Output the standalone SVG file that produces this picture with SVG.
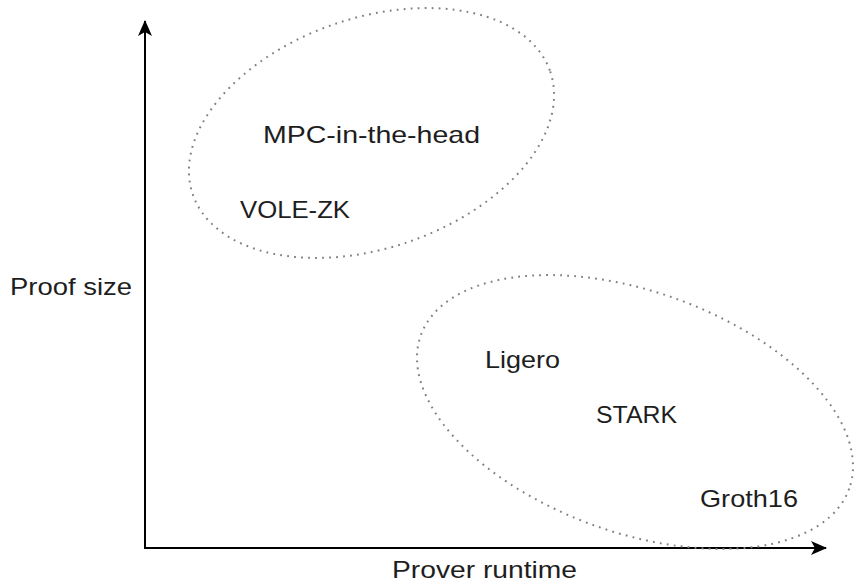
<svg xmlns="http://www.w3.org/2000/svg" width="854" height="584" viewBox="0 0 854 584">
<style>
.lbl{font-family:"Liberation Sans","DejaVu Sans",sans-serif;font-size:24px;fill:#1e1e1e}
.grp{fill:none;stroke:#808080;stroke-width:2;stroke-dasharray:1.8 5.2}
.axis{fill:none;stroke:#000;stroke-width:2}
</style>
<defs>
<marker id="arr" viewBox="0 0 16 14" refX="15" refY="7" markerWidth="16" markerHeight="14" markerUnits="userSpaceOnUse" orient="auto">
<path d="M0,0 L16,7 L0,14 L4,7 Z" fill="#000"/>
</marker>
</defs>
<rect width="854" height="584" fill="#fff"/>
<g id="connectors">
<line class="axis" x1="145" y1="549" x2="145" y2="21" marker-end="url(#arr)"/>
<line class="axis" x1="145" y1="548" x2="826" y2="548" marker-end="url(#arr)"/>
</g>
<g id="group-top">
<ellipse class="grp" cx="371.5" cy="133" rx="189" ry="115" transform="rotate(-19 371.5 133)"/>
</g>
<g id="group-bottom">
<ellipse class="grp" cx="635" cy="412" rx="227.5" ry="120.5" transform="rotate(19.7 635 412)"/>
</g>
<g id="mpc"><text class="lbl" x="263" y="143" textLength="217" lengthAdjust="spacingAndGlyphs">MPC-in-the-head</text></g>
<g id="vole"><text class="lbl" x="240" y="218" textLength="110" lengthAdjust="spacingAndGlyphs">VOLE-ZK</text></g>
<g id="ligero"><text class="lbl" x="485" y="368" textLength="75" lengthAdjust="spacingAndGlyphs">Ligero</text></g>
<g id="stark"><text class="lbl" x="596" y="423" textLength="81" lengthAdjust="spacingAndGlyphs">STARK</text></g>
<g id="groth16"><text class="lbl" x="700" y="507" textLength="98" lengthAdjust="spacingAndGlyphs">Groth16</text></g>
<g id="ylabel"><text class="lbl" x="10" y="295" textLength="122" lengthAdjust="spacingAndGlyphs">Proof size</text></g>
<g id="xlabel"><text class="lbl" x="392" y="578" font-size="23" textLength="185" lengthAdjust="spacingAndGlyphs">Prover runtime</text></g>
</svg>
